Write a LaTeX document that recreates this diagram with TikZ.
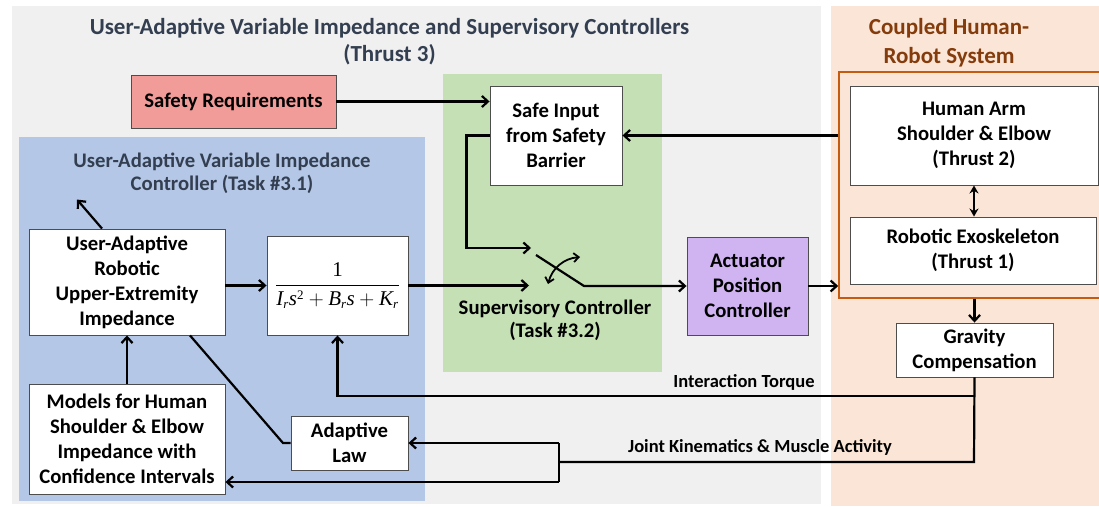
\documentclass[tikz,border=0pt]{standalone}
\usepackage{fontspec}
\setmainfont{Carlito}
\newfontfamily\tms{Liberation Serif}
\usetikzlibrary{arrows.meta,calc}

\definecolor{bgray}{HTML}{F0F0F0}
\definecolor{bblue}{HTML}{B4C7E7}
\definecolor{bgreen}{HTML}{C5E0B4}
\definecolor{borange}{HTML}{FBE5D6}
\definecolor{frameor}{HTML}{C55A11}
\definecolor{titleor}{HTML}{843C0C}
\definecolor{titlebl}{HTML}{333F50}
\definecolor{safered}{HTML}{F19C99}
\definecolor{actpurple}{HTML}{D0B4F2}
\definecolor{edge}{HTML}{4D4D4D}

\newcommand\bxfont{\fontsize{20.7}{25}\selectfont\bfseries}
\newcommand\ttlfont{\fontsize{23}{27}\selectfont\bfseries}
\newcommand\orfont{\fontsize{23}{29}\selectfont\bfseries}
\newcommand\subttlfont{\fontsize{20.7}{23}\selectfont\bfseries}
\newcommand\lblfont{\fontsize{18.5}{20}\selectfont\bfseries}
% Times-style pieces for the transfer function
\newcommand\fmi[1]{\mbox{\tms\mdseries\itshape\fontsize{21}{22}\selectfont #1}}
\newcommand\fup[1]{\mbox{\tms\mdseries\upshape\fontsize{21}{22}\selectfont #1}}
\newcommand\fsb[1]{\mbox{\tms\mdseries\itshape\fontsize{13}{13}\selectfont #1}}
\newcommand\fsp[1]{\mbox{\tms\mdseries\upshape\fontsize{13}{13}\selectfont #1}}

\begin{document}
\begin{tikzpicture}[x=1pt,y=-1pt,
  blk/.style={draw=edge, line width=0.9pt, fill=white, align=center,
              inner sep=0pt, font=\bxfont},
  ttl/.style={align=center, inner sep=0pt, font=\ttlfont},
  lbl/.style={align=center, inner sep=0pt, font=\lblfont},
  ln/.style={line width=2.2pt},
  arr/.style={line width=2.2pt, -{Straight Barb[length=6pt,width=11pt]}},
]
\useasboundingbox (0,0) rectangle (1099,506);

% background panels
\fill[bgray]   (12,6)  rectangle (821,504);
\fill[borange] (831,6) rectangle (1099,506);
\fill[bblue]   (19,137) rectangle (425,501);
\fill[bgreen]  (443,74) rectangle (662,372);

% panel titles
\node[ttl, text=titlebl] (t3) at (389.5,41.5)
  {User-Adaptive Variable Impedance and Supervisory Controllers\\(Thrust 3)};
\node[align=center, inner sep=0pt, font=\orfont, text=titleor] (thr) at (949,42.5)
  {Coupled Human-\\Robot System};
\node[align=center, inner sep=0pt, font=\subttlfont, text=titlebl] (t31) at (222,173.5)
  {User-Adaptive Variable Impedance\\Controller (Task \#3.1)};
\node[align=center, inner sep=0pt, font=\subttlfont] (t32) at (555,320.5)
  {Supervisory Controller\\(Task \#3.2)};

% coupled system frame
\node[draw=frameor, line width=1.6pt, minimum width=262pt, minimum height=226pt,
      inner sep=0pt] (frame) at (970,185) {};

% blocks
\node[blk, fill=safered, minimum width=205pt, minimum height=53pt] (safety) at (233.5,101.5) {Safety Requirements};
\node[blk, minimum width=132pt, minimum height=99pt] (safein) at (556,135.5) {Safe Input\\from Safety\\Barrier};
\node[blk, minimum width=196pt, minimum height=106pt] (ua) at (127,282) {User-Adaptive\\Robotic\\Upper-Extremity\\Impedance};
\node[blk, minimum width=141pt, minimum height=99pt] (frac) at (337.5,285.5)
  {$\displaystyle\frac{\fup{1}}{\fmi{I}_{\fsb{r}}\fmi{s}^{\fsp{2}}+\fmi{B}_{\fsb{r}}\fmi{s}+\fmi{K}_{\fsb{r}}}$};
\node[blk, minimum width=196pt, minimum height=110pt] (models) at (127,439) {Models for Human\\Shoulder \& Elbow\\Impedance with\\Confidence Intervals};
\node[blk, minimum width=117pt, minimum height=54pt] (adapt) at (349.5,443) {Adaptive\\Law};
\node[blk, fill=actpurple, minimum width=121pt, minimum height=98pt] (act) at (747.5,286) {Actuator\\Position\\Controller};
\node[blk, minimum width=248pt, minimum height=99pt] (human) at (974,135.5) {Human Arm\\Shoulder \& Elbow\\(Thrust 2)};
\node[blk, minimum width=246pt, minimum height=67pt] (exo) at (973,250.5) {Robotic Exoskeleton\\(Thrust 1)};
\node[blk, minimum width=157pt, minimum height=54pt] (grav) at (974.5,350) {Gravity\\Compensation};

% signal labels
\node[lbl] (tqlbl) at (744,382) {Interaction Torque};
\node[lbl] (jklbl) at (760,447) {Joint Kinematics \& Muscle Activity};

% switch points of the supervisory controller
\coordinate (swin1) at (531,248);
\coordinate (swin2) at (529,285.5);
\coordinate (bladeA) at (536,255);
\coordinate (bladeB) at (584,286);
\coordinate (tq) at (974,396);
\coordinate (jk) at (974,462);
\coordinate (jsplit) at (559,462);
\coordinate (jtop) at (559,443);
\coordinate (jbot) at (559,482);

% connectors
\draw[arr] (safety.east) -- (safety.east -| safein.west);
\draw[arr] (human.west -| frame.west) -- (safein.east);
\draw[arr] (safein.west) -- ++(-23,0) |- (swin1);
\draw[arr] (frac.east) -- (swin2);
\draw[arr] (bladeA) -- (bladeB) -- (bladeB -| act.west);
\draw[line width=1.8pt, {Straight Barb[length=5pt,width=9pt]}-{Straight Barb[length=5pt,width=9pt]}]
  (548,284) to[bend left=35] (580,257);
\draw[arr] (act.east) -- (act.east -| frame.west);
\draw[line width=1.6pt, {Stealth[length=8pt,width=9pt]}-{Stealth[length=8pt,width=9pt]}]
  (human.south) -- (human.south |- exo.north);
\draw[arr] (frame.south -| grav.north) -- (grav.north);
\draw[ln] (grav.south) -- (jk) -- (jsplit);
\draw[arr] (tq) -| (frac.south);
\draw[ln] (jtop) -- (jbot);
\draw[arr] (jtop) -- (adapt.east);
\draw[arr] (jbot) -- (jbot -| models.east);
\draw[arr] (models.north) -- (ua.south);
\draw[arr] (ua.east |- frac.west) -- (frac.west);
\draw[ln] ([xshift=63pt]ua.south) -- (283,443) -- (adapt.west);
\draw[arr] ([xshift=-25pt]ua.north) -- ++(-25,-29);
\end{tikzpicture}
\end{document}
